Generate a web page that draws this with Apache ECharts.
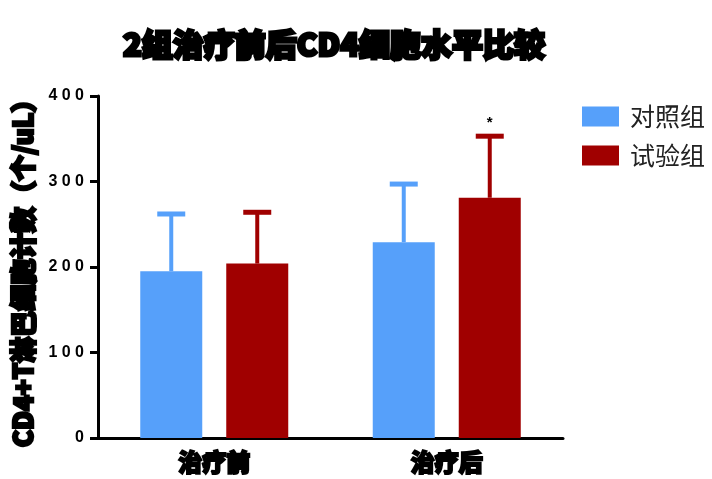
<!DOCTYPE html>
<html>
<head>
<meta charset="utf-8">
<script src="https://cdn.jsdelivr.net/npm/echarts@6/dist/echarts.min.js"></script>
<style>
html,body{margin:0;padding:0;background:#fff;}
#chart{width:712px;height:479px;}
</style>
</head>
<body>
<div id="chart"></div>
<script>
// CD4 levels before and after treatment, two groups
const categories = ['治疗前', '治疗后'];
const yTicks = [0, 100, 200, 300, 400];
const controlValues = [195, 229];
const controlSD = [67, 68];
const trialValues = [204, 281];
const trialSD = [60, 72];
const trialMarks = ['', '*'];
const seriesNames = ['对照组', '试验组'];

const BAR_W = 62;
const BAR_GAP = 24;
const COLORS = ['#56a0fa', '#a00000'];

function errorSeries(name, values, sd, color, side, marks) {
  const data = values.map((v, i) => [i, v, v + sd[i], marks ? marks[i] : '']);
  return {
    type: 'custom',
    name: name,
    z: 5,
    silent: true,
    data: data,
    renderItem: function (params, api) {
      const base = api.coord([api.value(0), api.value(1)]);
      const top = api.coord([api.value(0), api.value(2)]);
      const x = base[0] + side * (BAR_W + BAR_GAP) / 2;
      const capHalf = 14;
      const children = [
        { type: 'line', shape: { x1: x, y1: base[1], x2: x, y2: top[1] },
          style: { stroke: color, lineWidth: 4 } },
        { type: 'line', shape: { x1: x - capHalf, y1: top[1], x2: x + capHalf, y2: top[1] },
          style: { stroke: color, lineWidth: 5 } }
      ];
      const mark = data[params.dataIndex][3];
      if (mark) {
        children.push({ type: 'text', style: { text: mark, x: x, y: top[1] - 6,
          align: 'center', verticalAlign: 'bottom', fill: '#000',
          font: 'bold 15px Arial' } });
      }
      return { type: 'group', children: children };
    }
  };
}

const chart = echarts.init(document.getElementById('chart'));
chart.setOption({
  animation: false,
  title: {
    text: '2组治疗前后CD4细胞水平比较',
    left: 329, top: 24, textAlign: 'center',
    textStyle: { fontFamily: 'Noto Sans CJK SC', fontSize: 31, fontWeight: 900,
      color: '#000', textBorderColor: '#000', textBorderWidth: 3 }
  },
  legend: {
    left: 577, top: 99, orient: 'vertical', itemWidth: 37, itemHeight: 20, itemGap: 14,
    icon: 'rect',
    textStyle: { fontFamily: 'Noto Sans CJK SC', fontSize: 25, color: '#222', padding: [0, 0, 0, 6] },
    data: seriesNames
  },
  grid: { left: 98, right: 149, top: 96, bottom: 41 },
  xAxis: {
    type: 'category', data: categories,
    axisLine: { lineStyle: { color: '#000', width: 3 } },
    axisTick: { alignWithLabel: true, length: 7, lineStyle: { color: '#000', width: 2 } },
    axisLabel: { fontFamily: 'Noto Sans CJK SC', fontSize: 24, fontWeight: 900, color: '#000',
      margin: 12, textBorderColor: '#000', textBorderWidth: 2 }
  },
  yAxis: {
    type: 'value', min: yTicks[0], max: yTicks[yTicks.length - 1], interval: 100,
    name: 'CD4+T淋巴细胞计数（个/uL）', nameLocation: 'middle', nameGap: 58, nameRotate: 90,
    nameTextStyle: { fontFamily: 'Noto Sans CJK SC', fontSize: 26, fontWeight: 900, color: '#000',
      textBorderColor: '#000', textBorderWidth: 2.5 },
    splitLine: { show: false },
    axisLine: { show: true, lineStyle: { color: '#000', width: 3 } },
    axisTick: { show: true, length: 8, lineStyle: { color: '#000', width: 3 } },
    axisLabel: { fontFamily: 'Arial', fontSize: 16, fontWeight: 'bold', color: '#000', margin: 14,
      formatter: v => String(v).split('').join(' ') }
  },
  series: [
    { type: 'bar', name: seriesNames[0], data: controlValues, barWidth: BAR_W,
      barGap: (BAR_GAP / BAR_W * 100) + '%', itemStyle: { color: COLORS[0] } },
    { type: 'bar', name: seriesNames[1], data: trialValues, barWidth: BAR_W,
      itemStyle: { color: COLORS[1] } },
    errorSeries(seriesNames[0], controlValues, controlSD, COLORS[0], -1, null),
    errorSeries(seriesNames[1], trialValues, trialSD, COLORS[1], 1, trialMarks)
  ]
});
</script>
</body>
</html>
